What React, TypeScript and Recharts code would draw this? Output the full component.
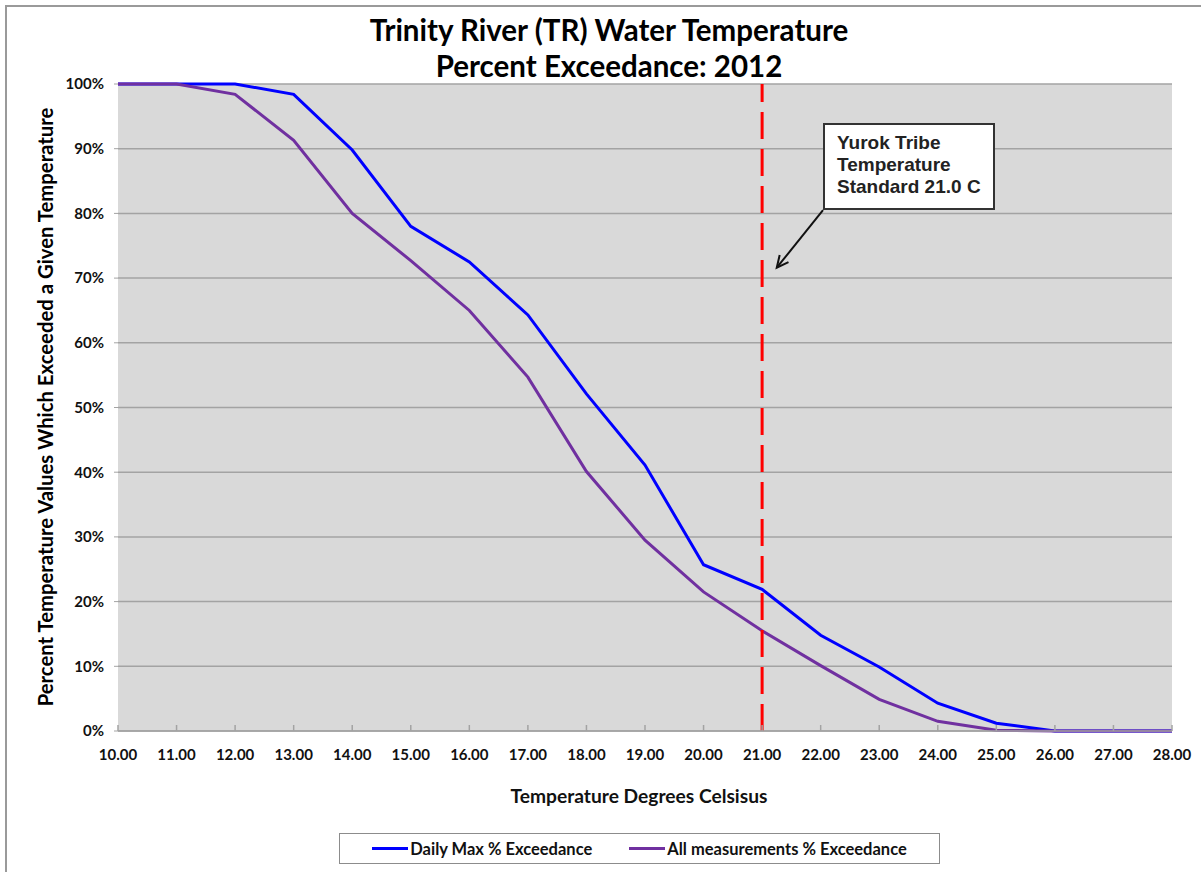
import { CartesianGrid, Line, LineChart, ReferenceLine, XAxis, YAxis } from "recharts";

const temps = [10, 11, 12, 13, 14, 15, 16, 17, 18, 19, 20, 21, 22, 23, 24, 25, 26, 27, 28];
const dailyMax = [100, 100, 100, 98.4, 89.8, 78.0, 72.5, 64.3, 52.1, 41.1, 25.7, 21.9, 14.8, 9.9, 4.3, 1.2, 0, 0, 0];
const allMeasurements = [100, 100, 98.4, 91.3, 80.0, 72.7, 65.0, 54.7, 40.1, 29.5, 21.5, 15.5, 10.1, 4.9, 1.5, 0.1, 0, 0, 0];
const yTicks = [0, 10, 20, 30, 40, 50, 60, 70, 80, 90, 100];

const standardTemp = 21;
// arrow from the note box down to the standard line (data coords)
const arrowFrom = { x: 22.04, y: 80.5 };
const arrowTo = { x: 21.25, y: 71.6 };

const series = [
  { key: "dailyMax", name: "Daily Max % Exceedance", color: "#0000ff" },
  { key: "all", name: "All measurements % Exceedance", color: "#7030a0" },
];

const data = temps.map((t, i) => ({ t, dailyMax: dailyMax[i], all: allMeasurements[i] }));

const font = "Lato, 'Open Sans', sans-serif";

function Arrow(props: any) {
  const { x1, y1, x2, y2 } = props;
  const a = Math.atan2(y2 - y1, x2 - x1);
  const len = 13;
  const spread = 0.45;
  const p1 = [x2 - len * Math.cos(a - spread), y2 - len * Math.sin(a - spread)];
  const p2 = [x2 - len * Math.cos(a + spread), y2 - len * Math.sin(a + spread)];
  return (
    <g stroke="#111" strokeWidth={2} fill="none">
      <line x1={x1} y1={y1} x2={x2} y2={y2} />
      <polyline points={`${p1[0]},${p1[1]} ${x2},${y2} ${p2[0]},${p2[1]}`} />
    </g>
  );
}

export default function App() {
  return (
    <div style={{ position: "absolute", left: 0, top: 0, width: 1201, height: 872, overflow: "hidden", background: "#fff" }}>
      <div style={{ position: "absolute", left: 5, top: 5, width: 1300, height: 1000, border: "2px solid #9a9a9a" }} />
      <div style={{ position: "absolute", left: 0, top: 0 }}>
        <LineChart width={1201} height={872} data={data} margin={{ top: 84, right: 29, bottom: 111, left: 58 }}>
          <CartesianGrid fill="#d9d9d9" stroke="#a3a3a3" strokeWidth={1.5} vertical={false} />
          <XAxis
            dataKey="t"
            type="number"
            domain={[10, 28]}
            ticks={temps}
            tickFormatter={(v) => Number(v).toFixed(2)}
            height={30}
            tickSize={-6}
            tickMargin={24}
            stroke="#a3a3a3"
            strokeWidth={1.5}
            tick={{ fill: "#111", fontSize: 15, fontWeight: 700, fontFamily: font }}
          />
          <YAxis
            type="number"
            domain={[0, 100]}
            ticks={yTicks}
            tickFormatter={(v) => `${v}%`}
            width={60}
            axisLine={false}
            tickSize={4}
            tickMargin={10}
            tickLine={{ stroke: "#a3a3a3" }}
            tick={{ fill: "#111", fontSize: 15, fontWeight: 700, fontFamily: font }}
          />
          {series.map((s) => (
            <Line
              key={s.key}
              dataKey={s.key}
              name={s.name}
              stroke={s.color}
              strokeWidth={3}
              dot={false}
              type="linear"
              isAnimationActive={false}
            />
          ))}
          <ReferenceLine x={standardTemp} stroke="#ff0000" strokeWidth={3} strokeDasharray="27 10" />
          <ReferenceLine segment={[arrowFrom, arrowTo]} shape={Arrow} />
        </LineChart>
      </div>

      <div style={{ position: "absolute", left: 0, width: 1218, top: 12, textAlign: "center", fontFamily: font, fontWeight: 700, fontSize: 29.5, lineHeight: "36px", color: "#000" }}>
        Trinity River (TR) Water Temperature
        <br />
        Percent Exceedance: 2012
      </div>

      <div
        style={{
          position: "absolute",
          left: 45,
          top: 407,
          transform: "translate(-50%, -50%) rotate(-90deg)",
          whiteSpace: "nowrap",
          fontFamily: font,
          fontWeight: 700,
          fontSize: 20.3,
          color: "#000",
        }}
      >
        Percent Temperature Values Which Exceeded a Given Temperature
      </div>

      <div style={{ position: "absolute", left: 639, top: 795, transform: "translate(-50%, -50%)", whiteSpace: "nowrap", fontFamily: font, fontWeight: 700, fontSize: 19.2, color: "#111" }}>
        Temperature Degrees Celsisus
      </div>

      <div
        style={{
          position: "absolute",
          left: 823,
          top: 123,
          width: 172,
          height: 87,
          border: "2px solid #333",
          background: "#fff",
          padding: "7px 0 0 12px",
          boxSizing: "border-box",
          fontFamily: "'Liberation Sans', Arial, sans-serif",
          fontWeight: 700,
          fontSize: 19,
          lineHeight: "22px",
          color: "#222",
        }}
      >
        Yurok Tribe
        <br />
        Temperature
        <br />
        Standard 21.0 C
      </div>

      <div
        style={{
          position: "absolute",
          left: 339,
          top: 833,
          width: 601,
          height: 31,
          border: "1.5px solid #8c8c8c",
          boxSizing: "border-box",
          display: "flex",
          alignItems: "center",
          justifyContent: "center",
          gap: 37,
          fontFamily: font,
          fontWeight: 700,
          fontSize: 16.5,
          color: "#111",
        }}
      >
        {series.map((s) => (
          <div key={s.key} style={{ display: "flex", alignItems: "center", gap: 2 }}>
            <div style={{ width: 36, height: 3, background: s.color }} />
            <span>{s.name}</span>
          </div>
        ))}
      </div>
    </div>
  );
}
